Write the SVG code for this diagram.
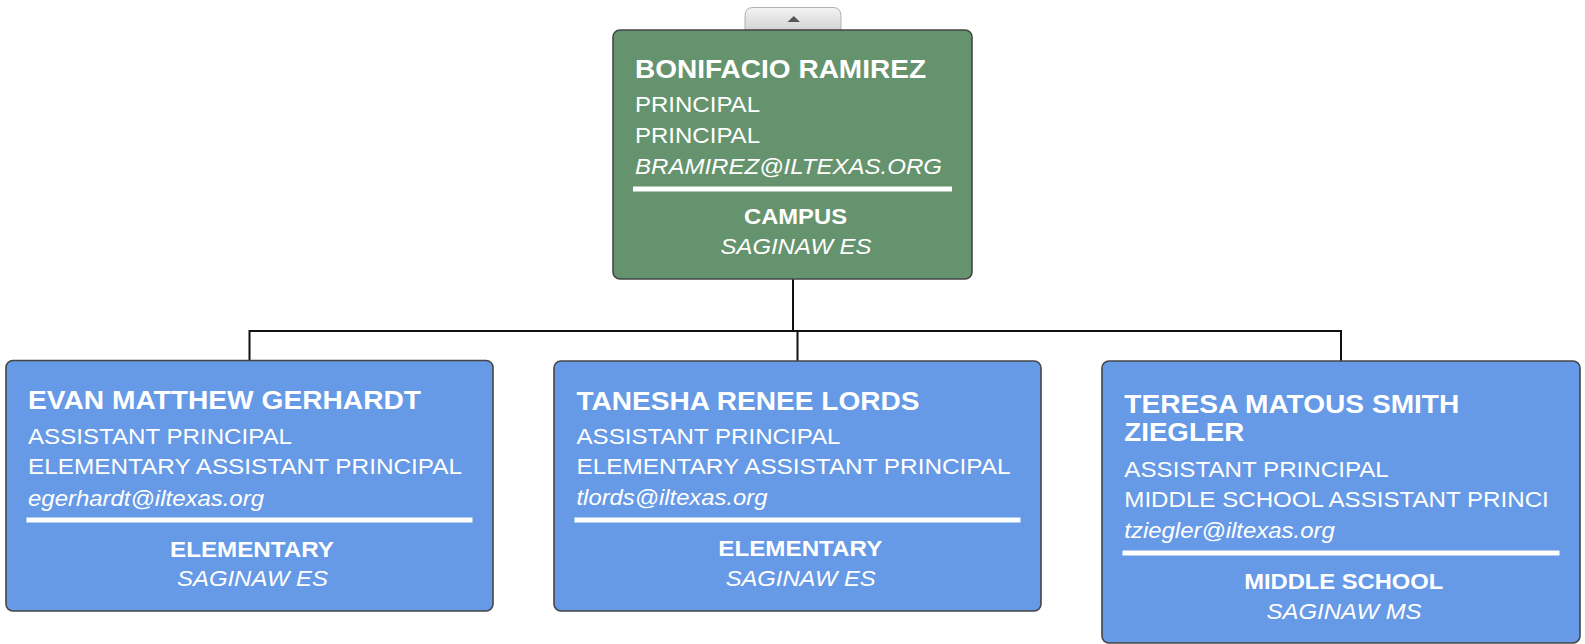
<svg xmlns="http://www.w3.org/2000/svg" width="1585" height="644" viewBox="0 0 1585 644">
<defs>
<linearGradient id="tabg" x1="0" y1="0" x2="0" y2="1">
<stop offset="0" stop-color="#f4f4f4"/>
<stop offset="1" stop-color="#d4d4d4"/>
</linearGradient>
</defs>
<style>
.box{stroke:#454545;stroke-width:1.6}
.g{fill:#65936d}
.b{fill:#6699e6}
text{fill:#ffffff;font-family:"Liberation Sans",Arial,sans-serif}
.n{font-size:25.5px;font-weight:bold}
.t{font-size:22.5px}
.e{font-size:22.5px;font-style:italic}
.h{font-size:22.5px;font-weight:bold;text-anchor:middle}
.s{font-size:22.5px;font-style:italic;text-anchor:middle}
.sep{fill:#ffffff}
.conn{fill:none;stroke:#111;stroke-width:2}
</style>
<rect width="1585" height="644" fill="#ffffff"/>
<g id="connectors">
<path class="conn" d="M793 279 V331 M249.5 360 V331 H1341 V361 M797.5 331 V361"/>
</g>
<g id="tab">
<path d="M745 30 V16 Q745 7.5 753 7.5 H833 Q841 7.5 841 16 V30 Z" fill="url(#tabg)" stroke="#b0b0b0" stroke-width="1"/>
<polygon points="787.5,22 800,22 793.8,16" fill="#555"/>
</g>
<g id="node-ramirez">
<rect class="box g" x="613" y="30" width="359" height="249" rx="7"/>
<text class="n" x="635" y="78" textLength="291" lengthAdjust="spacingAndGlyphs">BONIFACIO RAMIREZ</text>
<text class="t" x="635" y="112" textLength="125" lengthAdjust="spacingAndGlyphs">PRINCIPAL</text>
<text class="t" x="635" y="143" textLength="125" lengthAdjust="spacingAndGlyphs">PRINCIPAL</text>
<text class="e" x="635" y="174" textLength="307" lengthAdjust="spacingAndGlyphs">BRAMIREZ@ILTEXAS.ORG</text>
<rect class="sep" x="633" y="186.5" width="319" height="5"/>
<text class="h" x="795.5" y="224" textLength="103" lengthAdjust="spacingAndGlyphs">CAMPUS</text>
<text class="s" x="796" y="254" textLength="151" lengthAdjust="spacingAndGlyphs">SAGINAW ES</text>
</g>
<g id="node-gerhardt">
<rect class="box b" x="6" y="360.5" width="487" height="250.5" rx="7"/>
<text class="n" x="28" y="409" textLength="393" lengthAdjust="spacingAndGlyphs">EVAN MATTHEW GERHARDT</text>
<text class="t" x="28" y="443.5" textLength="264" lengthAdjust="spacingAndGlyphs">ASSISTANT PRINCIPAL</text>
<text class="t" x="28" y="474" textLength="434" lengthAdjust="spacingAndGlyphs">ELEMENTARY ASSISTANT PRINCIPAL</text>
<text class="e" x="28" y="505.5" textLength="236" lengthAdjust="spacingAndGlyphs">egerhardt@iltexas.org</text>
<rect class="sep" x="26.5" y="517.5" width="446" height="5"/>
<text class="h" x="252" y="556.5" textLength="164" lengthAdjust="spacingAndGlyphs">ELEMENTARY</text>
<text class="s" x="252.5" y="586" textLength="151" lengthAdjust="spacingAndGlyphs">SAGINAW ES</text>
</g>
<g id="node-lords">
<rect class="box b" x="554" y="361" width="487" height="250" rx="7"/>
<text class="n" x="576.5" y="410" textLength="343" lengthAdjust="spacingAndGlyphs">TANESHA RENEE LORDS</text>
<text class="t" x="576.5" y="443.5" textLength="264" lengthAdjust="spacingAndGlyphs">ASSISTANT PRINCIPAL</text>
<text class="t" x="576.5" y="474" textLength="434" lengthAdjust="spacingAndGlyphs">ELEMENTARY ASSISTANT PRINCIPAL</text>
<text class="e" x="576.5" y="505" textLength="191" lengthAdjust="spacingAndGlyphs">tlords@iltexas.org</text>
<rect class="sep" x="574.5" y="517.5" width="446" height="5"/>
<text class="h" x="800.3" y="556" textLength="164" lengthAdjust="spacingAndGlyphs">ELEMENTARY</text>
<text class="s" x="800.7" y="586" textLength="150" lengthAdjust="spacingAndGlyphs">SAGINAW ES</text>
</g>
<g id="node-ziegler">
<rect class="box b" x="1102" y="361" width="478" height="282" rx="7"/>
<text class="n" x="1124.3" y="412.5" textLength="335" lengthAdjust="spacingAndGlyphs">TERESA MATOUS SMITH</text>
<text class="n" x="1124.3" y="440.5" textLength="120" lengthAdjust="spacingAndGlyphs">ZIEGLER</text>
<text class="t" x="1124.3" y="476.5" textLength="264.5" lengthAdjust="spacingAndGlyphs">ASSISTANT PRINCIPAL</text>
<text class="t" x="1124.3" y="507.3" textLength="424.5" lengthAdjust="spacingAndGlyphs">MIDDLE SCHOOL ASSISTANT PRINCI</text>
<text class="e" x="1124.3" y="538.3" textLength="210.5" lengthAdjust="spacingAndGlyphs">tziegler@iltexas.org</text>
<rect class="sep" x="1122.5" y="550.5" width="437" height="5"/>
<text class="h" x="1343.7" y="589.3" textLength="199" lengthAdjust="spacingAndGlyphs">MIDDLE SCHOOL</text>
<text class="s" x="1344" y="619.3" textLength="155" lengthAdjust="spacingAndGlyphs">SAGINAW MS</text>
</g>
</svg>
